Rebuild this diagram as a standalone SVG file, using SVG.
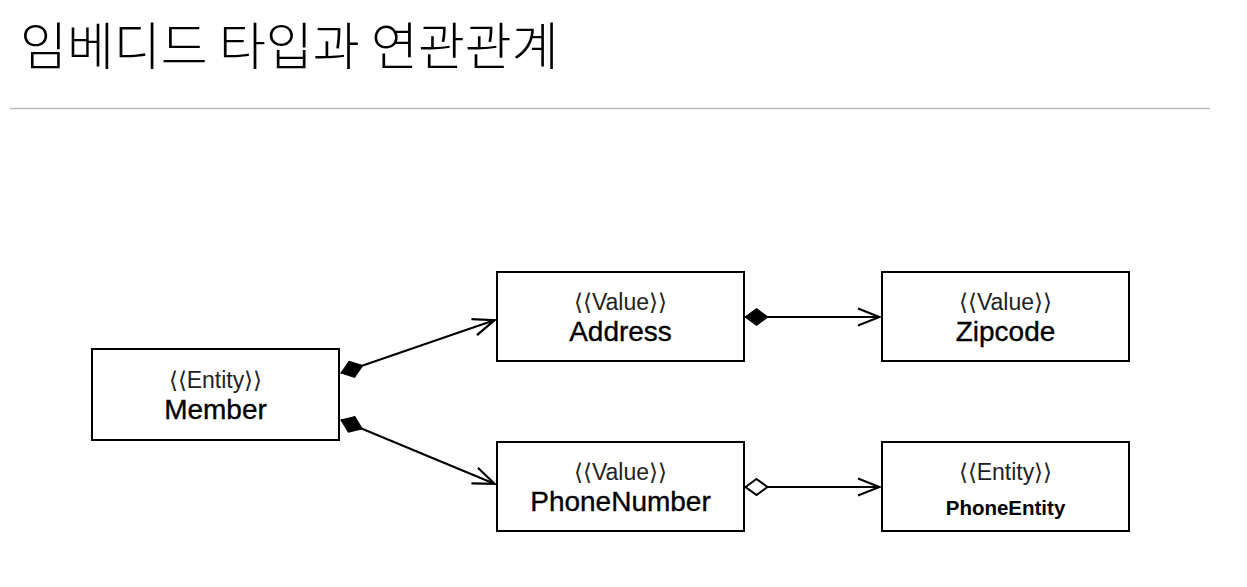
<svg xmlns="http://www.w3.org/2000/svg" width="1247" height="587" viewBox="0 0 1247 587">
<style>
.box{fill:#fff;stroke:#000;stroke-width:2}
.st{font-family:"Liberation Sans","DejaVu Sans",sans-serif;font-size:23px;font-weight:300;fill:#222;text-anchor:middle}
.nm{font-family:"Liberation Sans",Arial,sans-serif;font-size:28px;fill:#000;stroke:#000;stroke-width:0.35;text-anchor:middle}
.nb{font-family:"Liberation Sans",Arial,sans-serif;font-size:20.5px;font-weight:bold;fill:#000;text-anchor:middle}
.ln{stroke:#000;stroke-width:2;fill:none}
</style>
<defs>
<marker id="arrow" viewBox="0 0 24 20" refX="23" refY="10" markerWidth="24" markerHeight="20" markerUnits="userSpaceOnUse" orient="auto">
<path d="M1,1.5 L22.5,10 L1,18.5" fill="none" stroke="#000" stroke-width="2.2"/>
</marker>
<marker id="dfill" viewBox="0 0 26 20" refX="1" refY="10" markerWidth="26" markerHeight="20" markerUnits="userSpaceOnUse" orient="auto">
<path d="M1,10 L12.5,1.5 L24,10 L12.5,18.5 Z" fill="#000" stroke="#000" stroke-width="1"/>
</marker>
<marker id="dhollow" viewBox="0 0 26 20" refX="1" refY="10" markerWidth="26" markerHeight="20" markerUnits="userSpaceOnUse" orient="auto">
<path d="M1.5,10 L12.5,2 L23.5,10 L12.5,18 Z" fill="#fff" stroke="#000" stroke-width="2"/>
</marker>
</defs>
<rect width="1247" height="587" fill="#fff"/>
<g id="title">
<text x="20" y="65" font-family="'Noto Sans CJK KR','Noto Sans',sans-serif" font-size="51" font-weight="300" fill="#000">임베디드 타입과 연관관계</text>
<line x1="10" y1="108.5" x2="1210" y2="108.5" stroke="#bbb" stroke-width="1.5"/>
</g>
<g id="connectors">
<line class="ln" x1="341" y1="373" x2="495" y2="320" marker-start="url(#dfill)" marker-end="url(#arrow)"/>
<line class="ln" x1="341" y1="420" x2="495" y2="484" marker-start="url(#dfill)" marker-end="url(#arrow)"/>
<line class="ln" x1="745" y1="317" x2="880" y2="317" marker-start="url(#dfill)" marker-end="url(#arrow)"/>
<line class="ln" x1="745" y1="487" x2="880" y2="487" marker-start="url(#dhollow)" marker-end="url(#arrow)"/>
</g>
<g id="member">
<rect class="box" x="92" y="349" width="247" height="91"/>
<text class="st" x="215.5" y="388">⟨⟨Entity⟩⟩</text>
<text class="nm" x="215.5" y="419">Member</text>
</g>
<g id="address">
<rect class="box" x="497" y="272" width="247" height="89"/>
<text class="st" x="620.5" y="310">⟨⟨Value⟩⟩</text>
<text class="nm" x="620.5" y="341">Address</text>
</g>
<g id="phonenumber">
<rect class="box" x="497" y="442" width="247" height="89"/>
<text class="st" x="620.5" y="480">⟨⟨Value⟩⟩</text>
<text class="nm" x="620.5" y="511">PhoneNumber</text>
</g>
<g id="zipcode">
<rect class="box" x="882" y="272" width="247" height="89"/>
<text class="st" x="1005.5" y="310">⟨⟨Value⟩⟩</text>
<text class="nm" x="1005.5" y="341">Zipcode</text>
</g>
<g id="phoneentity">
<rect class="box" x="882" y="442" width="247" height="89"/>
<text class="st" x="1005.5" y="480">⟨⟨Entity⟩⟩</text>
<text class="nb" x="1005.5" y="515">PhoneEntity</text>
</g>
</svg>
